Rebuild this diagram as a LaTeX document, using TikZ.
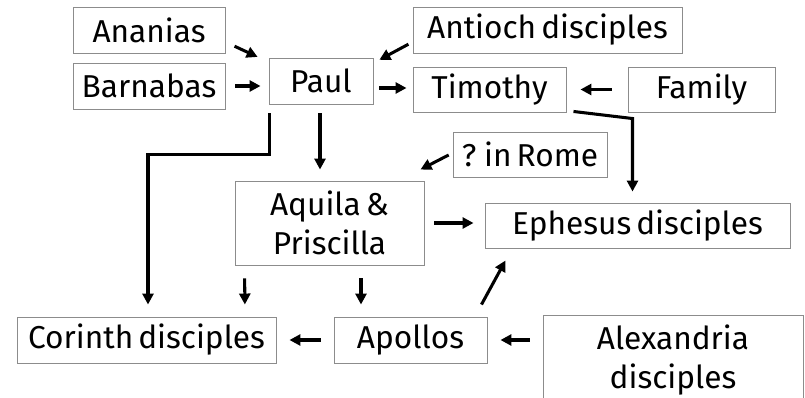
\documentclass[tikz,border=0pt]{standalone}
\usepackage{fontspec}
\setmainfont[WordSpace=0.6]{Fira Sans}
\usepackage{tikz}
\usetikzlibrary{arrows.meta,calc}

\begin{document}
\begin{tikzpicture}[x=0.03cm,y=-0.03cm,
    >={Triangle[length=0.33cm,width=0.33cm]},
    person/.style={draw=black!45,line width=0.8pt,inner sep=0pt,align=center,
        font=\fontsize{27}{33}\selectfont},
    link/.style={->,line width=2.6pt}]
\useasboundingbox (0,0) rectangle (805,398);
\node (ananias) at (149,30) [person,minimum width=4.56cm,minimum height=1.38cm] {Ananias};
\node (barnabas) at (149,86) [person,minimum width=4.56cm,minimum height=1.38cm] {Barnabas};
\node (paul) at (321,81) [person,minimum width=3.12cm,minimum height=1.38cm] {Paul};
\node (antioch) at (547.5,30) [person,minimum width=8.07cm,minimum height=1.38cm] {Antioch disciples};
\node (timothy) at (489.5,89.5) [person,minimum width=4.59cm,minimum height=1.35cm] {Timothy};
\node (family) at (701.5,89.5) [person,minimum width=4.41cm,minimum height=1.35cm] {Family};
\node (rome) at (530,154.5) [person,minimum width=4.62cm,minimum height=1.35cm] {? in Rome};
\node (aquila) at (329.5,223) [person,minimum width=5.67cm,minimum height=2.52cm] {Aquila \&\\Priscilla};
\node (ephesus) at (637.5,225.5) [person,minimum width=9.15cm,minimum height=1.35cm] {Ephesus disciples};
\node (corinth) at (146.5,340) [person,minimum width=7.77cm,minimum height=1.38cm] {Corinth disciples};
\node (apollos) at (410.5,340) [person,minimum width=4.59cm,minimum height=1.38cm] {Apollos};
\node (alexandria) at (673,360) [person,minimum width=7.8cm,minimum height=2.7cm] {Alexandria\\disciples};

\draw [link,shorten <=0.3cm,shorten >=0.36cm] ($(ananias.east)+(0,12)$) -- ($(paul.west)+(0,-19)$);
\draw [link,shorten <=0.3cm,shorten >=0.24cm] (barnabas.east) -- (barnabas.east -| paul.west);
\draw [link,shorten <=0.14cm,shorten >=0.2cm] ($(antioch.west)+(0,12)$) -- ($(paul.east)+(0,-18)$);
\draw [link,shorten <=0.18cm,shorten >=0.18cm] ($(paul.east)+(0,7)$) -- ($(timothy.west)+(0,-1.5)$);
\draw [link,shorten <=0.48cm,shorten >=0.42cm] (family.west) -- (timothy.east);
\draw [link,shorten >=0.33cm] ($(timothy.south east)+(7,-1)$) -- ($(ephesus.north)+(-5,-84)$) -- ($(ephesus.north)+(-5,0)$);
\draw [link,shorten <=0.13cm] ($(rome.west)+(0,-1.5)$) -- ($(aquila.north east)+(-4,-11)$);
\draw [link,shorten <=0.27cm,shorten >=0.33cm] ($(paul.south)+(-1,0)$) -- ($(aquila.north)+(-9.5,0)$);
\draw [link,shorten <=0.27cm,shorten >=0.36cm] ($(paul.south west)+(1,0)$) |- ($(corinth.north)+(1.5,-162)$) -- ($(corinth.north)+(1.5,0)$);
\draw [link,shorten <=0.39cm,shorten >=0.36cm] ($(aquila.south west)+(10,0)$) -- ($(corinth.north)+(98.5,0)$);
\draw [link,shorten <=0.39cm,shorten >=0.36cm] ($(aquila.south)+(31.5,0)$) -- ($(apollos.north)+(-49.5,0)$);
\draw [link,shorten <=0.3cm,shorten >=0.33cm] (aquila.east) -- (aquila.east -| ephesus.west);
\draw [link,shorten <=0.39cm,shorten >=0.39cm] (apollos.west) -- (corinth.east);
\draw [link,shorten <=0.39cm,shorten >=0.39cm] (alexandria.west |- apollos.east) -- (apollos.east);
\draw [link] ($(apollos.north east)+(-6,-12)$) -- ($(ephesus.south west)+(21,12)$);
\end{tikzpicture}
\end{document}
